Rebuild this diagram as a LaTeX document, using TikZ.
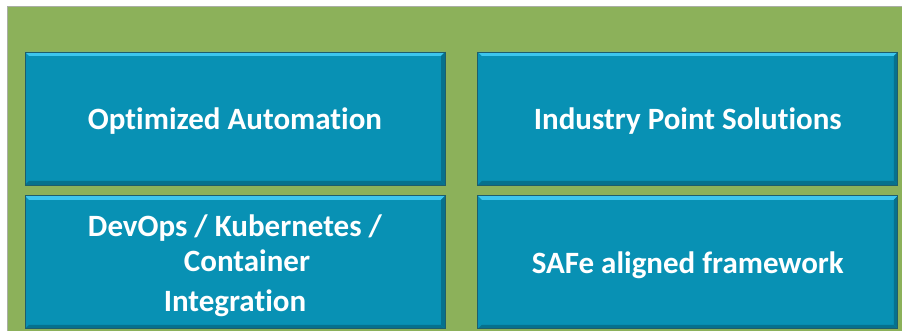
\documentclass[tikz,border=0pt]{standalone}
\usepackage{fontspec}
\setmainfont{Carlito}[Ligatures=CommonOff]
\usetikzlibrary{positioning}

\definecolor{panelgreen}{HTML}{8CB15A}
\definecolor{panelrim}{HTML}{A9AFA3}
\definecolor{tilefill}{HTML}{0891B4}
\definecolor{tilelight}{HTML}{3CC6EE}
\definecolor{tiledark}{HTML}{06718D}
\definecolor{tileedge}{HTML}{1E5D6C}

% text sits a little below the middle of each tile
\newcommand{\tiletext}[2][3pt]{\raisebox{-#1}[\height][\depth]{#2}}

\tikzset{
	tile/.style={
		fill=tilefill, draw=tileedge, line width=0.8pt,
		minimum width=420pt, minimum height=133pt, inner sep=0pt,
		text=white, align=center,
		font=\bfseries\fontsize{31}{35}\selectfont,
		path picture={
			\fill[tilelight] (path picture bounding box.north west) -- (path picture bounding box.north east)
				-- ([xshift=-4pt,yshift=-4pt]path picture bounding box.north east) -- ([xshift=4pt,yshift=-4pt]path picture bounding box.north west) -- cycle;
			\fill[tiledark] (path picture bounding box.south west) -- (path picture bounding box.south east)
				-- ([xshift=-4pt,yshift=4pt]path picture bounding box.south east) -- ([xshift=4pt,yshift=4pt]path picture bounding box.south west) -- cycle;
			\fill[tiledark] (path picture bounding box.north east) -- (path picture bounding box.south east)
				-- ([xshift=-4pt,yshift=4pt]path picture bounding box.south east) -- ([xshift=-4pt,yshift=-4pt]path picture bounding box.north east) -- cycle;
		}
	}
}

\begin{document}
\begin{tikzpicture}[x=1pt, y=-1pt, node distance=10pt and 32pt]

	\useasboundingbox (0,0) rectangle (902,331);
	\fill[panelgreen, draw=panelrim, line width=1pt] (7.5,6.5) rectangle (903,332);

	\node[tile] (auto) at (235,118.5) {\tiletext{Optimized Automation}};
	\node[tile, right = of auto] (industry) {\tiletext{Industry Point Solutions}};
	\node[tile, below = of auto] (devops) {\tiletext[5pt]{\begin{tabular}{@{}c@{}}DevOps / Kubernetes /\\ \hspace*{24pt}Container\\[5pt] Integration\end{tabular}}};
	\node[tile, below = of industry] (safe) {\tiletext{SAFe aligned framework}};

\end{tikzpicture}
\end{document}
